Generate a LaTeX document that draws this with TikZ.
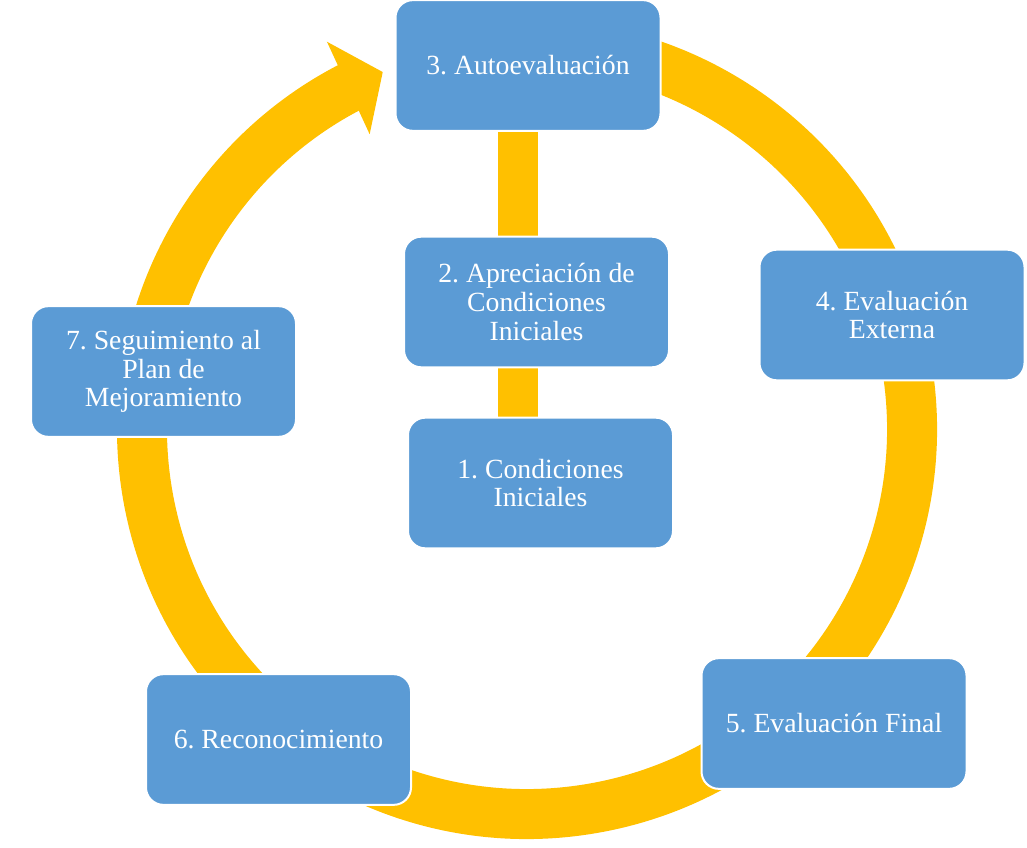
\documentclass[tikz,border=0pt]{standalone}
\usepackage{fontspec}
\setmainfont{Liberation Serif}
\usetikzlibrary{arrows.meta,bending}
\pgfdeclarelayer{background}
\pgfsetlayers{background,main}
\definecolor{stepblue}{HTML}{5B9BD5}
\definecolor{ringgold}{HTML}{FFC000}
\frenchspacing

\begin{document}
\begin{tikzpicture}[x=0.75pt,y=0.75pt,
 phase/.style ={draw=white,line width=1.5pt,fill=stepblue,rounded corners=13pt,
   minimum width=198.75pt,minimum height=98pt,align=center,text=white,
   font=\fontsize{20.8}{21.5}\selectfont},
 cycle/.style ={draw=ringgold,line width=37.5pt,-{Triangle[length=28.5pt,width=75pt]}},
 link/.style ={draw=ringgold,line width=30pt}
 ]
\useasboundingbox (0,0) rectangle (1027,847);
%centre of the ring and axis of the middle column
\coordinate (hub) at (527,418);
\coordinate (axis) at (518,0);
%draw the steps
\node[phase] (b3) at (528,781.5) {3. Autoevaluación};
\node[phase] (b2) at (536.5,545) {2. Apreciación de\\Condiciones\\Iniciales};
\node[phase] (b1) at (540.5,364) {1. Condiciones\\Iniciales};
\node[phase] (b4) at (892,532) {4. Evaluación\\Externa};
\node[phase] (b5) at (834,123.5) {5. Evaluación Final};
\node[phase] (b6) at (278.5,107.5) {6. Reconocimiento};
\node[phase] (b7) at (163.5,475.5) {7. Seguimiento al\\Plan de\\Mejoramiento};
\begin{pgfonlayer}{background}
%draw the cycle
\draw[cycle] ([shift={(100:385)}]hub) arc[start angle=100,end angle=-248,radius=385];
%draw the middle links
\draw[link] (b3.south -| axis) -- (b2.north -| axis);
\draw[link] (b2.south -| axis) -- (b1.north -| axis);
\end{pgfonlayer}
\end{tikzpicture}
\end{document}
